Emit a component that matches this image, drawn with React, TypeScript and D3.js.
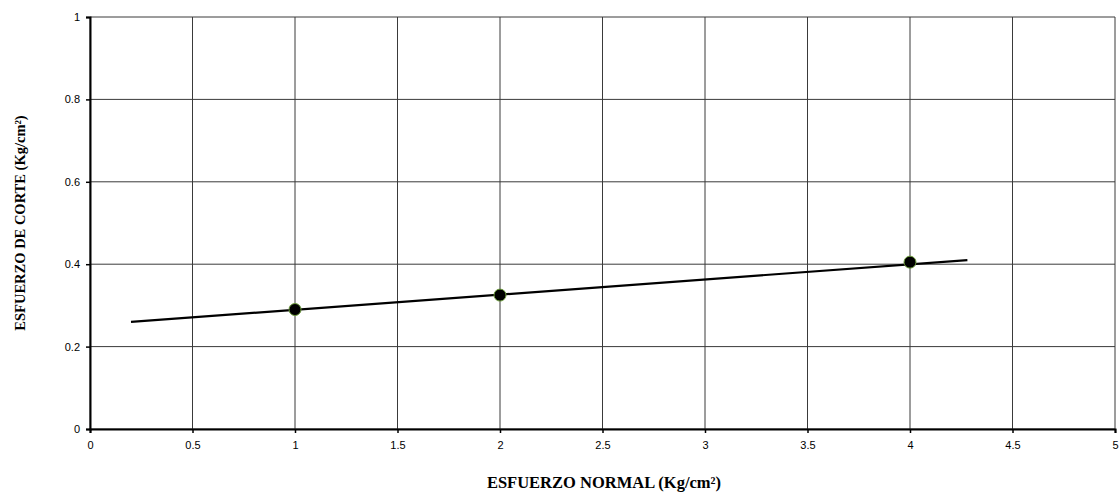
import React, { useEffect, useRef } from 'react'
import * as d3 from 'd3'

const normalX: number[] = [1, 2, 4]
const corteY: number[] = [0.29, 0.325, 0.405]
const trendX: number[] = [0.2, 4.28]
const trendY: number[] = [0.26, 0.41]
const xTicks: number[] = [0, 0.5, 1, 1.5, 2, 2.5, 3, 3.5, 4, 4.5, 5]
const yTicks: number[] = [0, 0.2, 0.4, 0.6, 0.8, 1]

export default function App() {
  const svgRef = useRef<SVGSVGElement>(null)
  const W = 1120
  const H = 493
  const margin = { top: 17, right: 5, bottom: 64, left: 90 }

  useEffect(() => {
    const svg = d3.select(svgRef.current)
    svg.selectAll('*').remove()
    const width = W - margin.left - margin.right
    const height = H - margin.top - margin.bottom

    const x = d3.scaleLinear().domain([0, 5]).range([0, width])
    const y = d3.scaleLinear().domain([0, 1]).range([height, 0])

    const g = svg.append('g').attr('transform', `translate(${margin.left},${margin.top})`)

    // grid
    g.selectAll('.vg').data(xTicks).enter().append('line')
      .attr('x1', d => x(d)).attr('x2', d => x(d))
      .attr('y1', 0).attr('y2', height)
      .attr('stroke', '#3a3a3a').attr('stroke-width', 1)
    g.selectAll('.hg').data(yTicks).enter().append('line')
      .attr('x1', 0).attr('x2', width)
      .attr('y1', d => y(d)).attr('y2', d => y(d))
      .attr('stroke', '#3a3a3a').attr('stroke-width', 1)

    const font = '"Liberation Sans", Arial, sans-serif'

    const xAxis = g.append('g').attr('transform', `translate(0,${height})`)
      .call(d3.axisBottom(x).tickValues(xTicks).tickSize(4).tickFormat(d => String(d)))
    const yAxis = g.append('g')
      .call(d3.axisLeft(y).tickValues(yTicks).tickSize(4).tickFormat(d => String(d)))
    ;[xAxis, yAxis].forEach(a => {
      a.select('.domain').attr('stroke', '#000').attr('stroke-width', 2)
      a.selectAll('.tick line').attr('stroke', '#000').attr('stroke-width', 1.5)
      a.selectAll('.tick text').attr('font-family', font).attr('font-size', 11).attr('fill', '#000')
    })
    xAxis.selectAll('.tick text').attr('dy', '1.15em')
    yAxis.selectAll('.tick text').attr('x', -10)

    // trend line
    const line = d3.line<number>().x(d => x(d)).y((d, i) => y(trendY[i]))
    g.append('path').datum(trendX)
      .attr('fill', 'none').attr('stroke', '#000').attr('stroke-width', 2.2)
      .attr('d', line)

    // points
    g.selectAll('.pt').data(normalX).enter().append('circle')
      .attr('cx', d => x(d)).attr('cy', (d, i) => y(corteY[i]))
      .attr('r', 6).attr('fill', '#000').attr('stroke', '#6a9a3a').attr('stroke-width', 1)

    // titles
    svg.append('text')
      .attr('x', 604).attr('y', 488)
      .attr('text-anchor', 'middle')
      .attr('font-family', '"Liberation Serif", "Times New Roman", serif')
      .attr('font-weight', 'bold').attr('font-size', 16.5)
      .text('ESFUERZO NORMAL (Kg/cm²)')
    svg.append('text')
      .attr('transform', `translate(25,${margin.top + 206}) rotate(-90)`)
      .attr('text-anchor', 'middle')
      .attr('font-family', '"Liberation Serif", "Times New Roman", serif')
      .attr('font-weight', 'bold').attr('font-size', 14.5)
      .text('ESFUERZO DE CORTE (Kg/cm²)')
  }, [])

  return (
    <svg ref={svgRef} width={W} height={H}
      style={{ position: 'absolute', left: 0, top: 0, background: '#fff' }} />
  )
}
